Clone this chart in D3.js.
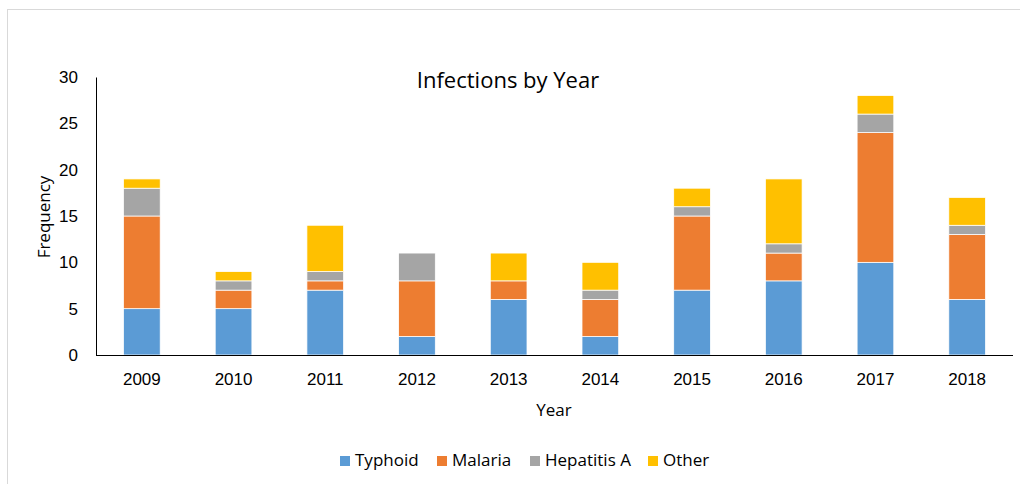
<!DOCTYPE html>
<html>
<head>
<meta charset="utf-8">
<script src="https://cdn.jsdelivr.net/npm/d3@7"></script>
<style>
    body { margin: 0; background: #fff; }
    svg { font-family: 'Open Sans', 'Liberation Sans', sans-serif; }
</style>
</head>
<body>
<div class="chart"></div>
<script>
(function () {
    'use strict';

    const years = ['2009', '2010', '2011', '2012', '2013', '2014', '2015', '2016', '2017', '2018'];
    const seriesNames = ['Typhoid', 'Malaria', 'Hepatitis A', 'Other'];
    const typhoid = [5, 5, 7, 2, 6, 2, 7, 8, 10, 6];
    const malaria = [10, 2, 1, 6, 2, 4, 8, 3, 14, 7];
    const hepatitisA = [3, 1, 1, 3, 0, 1, 1, 1, 2, 1];
    const other = [1, 1, 5, 0, 3, 3, 2, 7, 2, 3];
    const yTicks = [0, 5, 10, 15, 20, 25, 30];
    const colors = ['#5b9bd5', '#ed7d31', '#a5a5a5', '#ffc000'];

    const width = 1020;
    const height = 484;
    const margin = { top: 77, left: 96, right: 7, bottom: 129 };

    const svg = d3.select('.chart').append('svg')
        .attr('width', width)
        .attr('height', height);

    // chart frame
    svg.append('rect')
        .attr('x', 7.5).attr('y', 9.5)
        .attr('width', width).attr('height', height)
        .attr('fill', 'none').attr('stroke', '#d9d9d9');

    const rows = years.map(function (y, i) {
        return {
            year: y,
            'Typhoid': typhoid[i],
            'Malaria': malaria[i],
            'Hepatitis A': hepatitisA[i],
            'Other': other[i]
        };
    });

    const stacked = d3.stack().keys(seriesNames)(rows);

    const x = d3.scaleBand().domain(years)
        .range([margin.left, width - margin.right])
        .paddingInner(0.6).paddingOuter(0.3);
    const y = d3.scaleLinear().domain([0, 30])
        .range([height - margin.bottom, margin.top]);

    svg.append('g').selectAll('g').data(stacked).enter().append('g')
        .attr('fill', function (d, i) { return colors[i]; })
        .selectAll('rect').data(function (d) { return d; }).enter().append('rect')
        .attr('x', function (d) { return x(d.data.year); })
        .attr('y', function (d) { return y(d[1]); })
        .attr('width', x.bandwidth())
        .attr('height', function (d) { return y(d[0]) - y(d[1]); })
        .attr('stroke', '#fff')
        .attr('stroke-width', 0.75);

    const yAxis = d3.axisLeft(y).tickValues(yTicks).tickSize(0).tickPadding(18);
    svg.append('g')
        .attr('transform', 'translate(' + margin.left + ',0)')
        .call(yAxis)
        .call(function (g) {
            g.select('.domain').attr('stroke', '#000');
            g.selectAll('text').style('font-size', '17px').attr('fill', '#000');
        });

    const xAxis = d3.axisBottom(x).tickSize(0).tickPadding(18);
    svg.append('g')
        .attr('transform', 'translate(0,' + (height - margin.bottom) + ')')
        .call(xAxis)
        .call(function (g) {
            g.select('.domain').attr('stroke', '#000').attr('d', 'M' + margin.left + ',0.5H' + (width - margin.right));
            g.selectAll('text').style('font-size', '17px').attr('fill', '#000');
        });

    svg.append('text').text('Infections by Year')
        .attr('x', 508).attr('y', 88)
        .attr('text-anchor', 'middle')
        .style('font-size', '22px');

    svg.append('text').text('Frequency')
        .attr('transform', 'translate(50,' + 217 + ') rotate(-90)')
        .attr('text-anchor', 'middle')
        .style('font-size', '17px');

    svg.append('text').text('Year')
        .attr('x', 554).attr('y', 416)
        .attr('text-anchor', 'middle')
        .style('font-size', '17px');

    const legendX = [340, 437, 530, 648];
    const legend = svg.append('g').attr('class', 'legend')
        .selectAll('g').data(seriesNames).enter().append('g')
        .attr('transform', function (d, i) { return 'translate(' + legendX[i] + ',456)'; });
    legend.append('rect')
        .attr('width', 10).attr('height', 10)
        .attr('fill', function (d, i) { return colors[i]; });
    legend.append('text').text(function (d) { return d; })
        .attr('x', 15).attr('y', 10)
        .style('font-size', '17px');
}());
</script>
</body>
</html>
